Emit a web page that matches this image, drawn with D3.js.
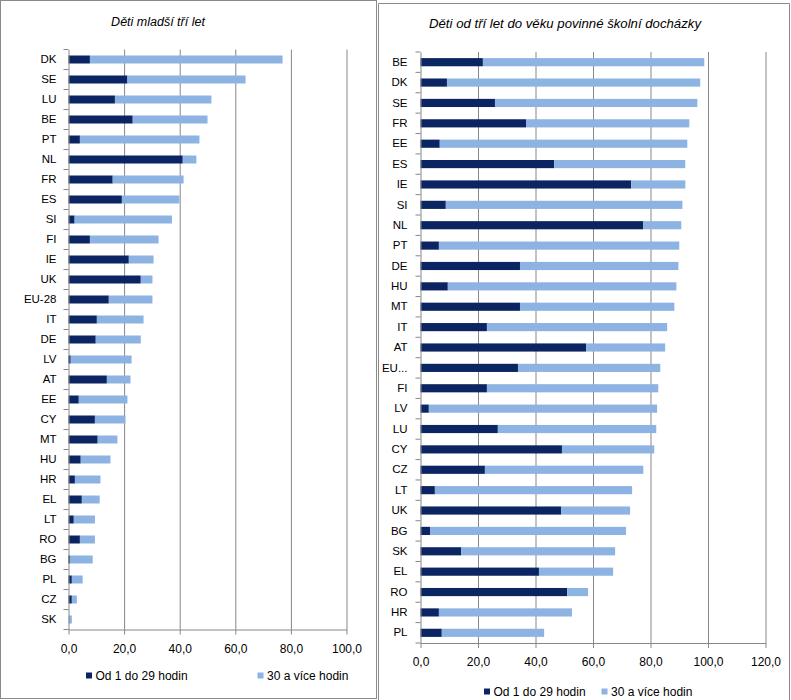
<!DOCTYPE html>
<html>
  <head>
    <meta charset="UTF-8" />
    <title>Děti v předškolním vzdělávání</title>
    <script src="https://d3js.org/d3.v7.min.js"></script>
    <style>
      * {
        margin: 0;
        padding: 0;
      }
      body {
        background-color: #ffffff;
      }
      svg {
        display: block;
        font-family: "Liberation Sans", Arial, sans-serif;
      }
      .title {
        font-style: italic;
        fill: #000000;
        text-anchor: middle;
      }
      .frame {
        fill: none;
        stroke: #8a8a8a;
        stroke-width: 1;
      }
      .grid line {
        stroke: #878787;
      }
      .grid path {
        display: none;
      }
      .axis path,
      .axis line {
        stroke: #878787;
      }
      .axis text {
        fill: #000000;
      }
      .legend text {
        font-size: 12px;
        fill: #000000;
      }
    </style>
  </head>
  <body>
    <svg id="chart" width="791" height="700"></svg>
  </body>
  <script>
    // series names
    const seriesNames = ["Od 1 do 29 hodin", "30 a více hodin"];
    const colors = ["#0b2462", "#8db3e2"];

    // left chart: children under three
    const leftCountries = ["DK", "SE", "LU", "BE", "PT", "NL", "FR", "ES", "SI", "FI",
      "IE", "UK", "EU-28", "IT", "DE", "LV", "AT", "EE", "CY", "MT",
      "HU", "HR", "EL", "LT", "RO", "BG", "PL", "CZ", "SK"];
    const leftShort = [7.7, 21.2, 16.7, 23.1, 4.1, 41.1, 15.9, 19.2, 2.2, 7.7,
      21.7, 26.0, 14.5, 10.2, 9.8, 0.8, 13.8, 3.7, 9.5, 10.5,
      4.4, 2.3, 4.8, 1.9, 4.1, 0.5, 1.2, 1.2, 0.0];
    const leftLong = [69.3, 42.5, 34.7, 26.9, 43.0, 4.9, 25.5, 20.7, 35.0, 24.7,
      8.9, 4.2, 15.7, 16.8, 16.2, 21.9, 8.5, 17.5, 11.0, 7.1,
      10.7, 9.2, 6.4, 7.6, 5.4, 8.2, 3.9, 1.8, 1.2];
    const leftTicks = [0, 20, 40, 60, 80, 100];

    // right chart: from three years to compulsory school age
    const rightCountries = ["BE", "DK", "SE", "FR", "EE", "ES", "IE", "SI", "NL", "PT",
      "DE", "HU", "MT", "IT", "AT", "EU...", "FI", "LV", "LU", "CY",
      "CZ", "LT", "UK", "BG", "SK", "EL", "RO", "HR", "PL"];
    const rightShort = [21.7, 9.2, 25.9, 36.7, 6.7, 46.5, 73.3, 8.8, 77.5, 6.4,
      34.6, 9.5, 34.6, 23.1, 57.6, 33.9, 23.1, 2.9, 26.9, 49.2,
      22.4, 5.0, 48.9, 3.3, 14.1, 41.2, 51.0, 6.4, 7.4];
    const rightLong = [77.0, 88.1, 70.4, 56.8, 86.1, 45.6, 18.8, 82.3, 13.2, 83.6,
      55.1, 79.5, 53.7, 62.7, 27.5, 49.5, 59.6, 79.4, 55.1, 32.1,
      55.1, 68.6, 24.0, 68.2, 53.6, 25.8, 7.3, 46.3, 35.6];
    const rightTicks = [0, 20, 40, 60, 80, 100, 120];

    const svg = d3.select("#chart");

    // panel frames (two overlapping chart boxes)
    svg.append("rect").attr("class", "frame")
      .attr("x", 0.5).attr("y", 0.5).attr("width", 376).attr("height", 698);
    svg.append("rect")
      .attr("x", 378).attr("y", 3).attr("width", 413).attr("height", 697)
      .attr("fill", "#ffffff");
    svg.append("path").attr("class", "frame")
      .attr("d", "M378.5,700V3.5H789.5V700");

    const fmt = (d) => d.toFixed(1).replace(".", ",");

    function drawPanel(cfg) {
      const rows = cfg.countries.map((c, i) => ({
        country: c, short: cfg.short[i], long: cfg.long[i]
      }));

      const x = d3.scaleLinear()
        .domain([0, d3.max(cfg.ticks)])
        .range([cfg.left, cfg.right]);
      const y = d3.scaleBand()
        .domain(cfg.countries)
        .range([cfg.top, cfg.bottom])
        .paddingInner(0.6)
        .paddingOuter(0.3);

      const g = svg.append("g");

      // title
      g.append("text").attr("class", "title")
        .attr("x", cfg.titleX).attr("y", cfg.titleY)
        .attr("font-size", cfg.titleSize)
        .text(cfg.title);

      // vertical gridlines
      g.append("g").attr("class", "grid")
        .attr("transform", `translate(0,${cfg.bottom})`)
        .call(d3.axisBottom(x).tickValues(cfg.ticks.slice(1))
          .tickSize(-(cfg.bottom - cfg.top)).tickFormat(""));

      // stacked bars
      const stack = d3.stack().keys(["short", "long"]);
      g.append("g").selectAll("g")
        .data(stack(rows))
        .join("g")
        .attr("fill", (d, i) => colors[i])
        .selectAll("rect")
        .data((d) => d)
        .join("rect")
        .attr("x", (d) => x(d[0]))
        .attr("y", (d) => y(d.data.country))
        .attr("width", (d) => x(d[1]) - x(d[0]))
        .attr("height", y.bandwidth());

      // x axis
      g.append("g").attr("class", "axis")
        .attr("transform", `translate(0,${cfg.bottom})`)
        .call(d3.axisBottom(x).tickValues(cfg.ticks)
          .tickSize(5).tickPadding(9.5).tickSizeOuter(0).tickFormat(fmt))
        .call((a) => a.selectAll("text").attr("font-size", 12).attr("font-family", null));

      // y axis: labels at band centres, ticks at band edges
      const ya = g.append("g").attr("class", "axis")
        .attr("transform", `translate(${cfg.left},0)`)
        .call(d3.axisLeft(y).tickSize(0).tickPadding(cfg.labelPad))
        .call((a) => a.selectAll("text").attr("font-size", 11.5).attr("font-family", null));
      const step = y.step();
      ya.selectAll(".edge")
        .data(d3.range(cfg.countries.length + 1))
        .join("line")
        .attr("class", "edge")
        .attr("x1", -5).attr("x2", 0)
        .attr("y1", (i) => cfg.top + i * step)
        .attr("y2", (i) => cfg.top + i * step);

      // legend
      const lg = g.append("g").attr("class", "legend");
      seriesNames.forEach((name, i) => {
        lg.append("rect")
          .attr("x", cfg.legendX[i]).attr("y", cfg.legendY - 3.5)
          .attr("width", 6).attr("height", 6)
          .attr("fill", colors[i]);
        lg.append("text")
          .attr("x", cfg.legendX[i] + 9.5).attr("y", cfg.legendY)
          .attr("dy", "0.35em")
          .text(name);
      });
    }

    drawPanel({
      title: "Děti mladší tří let",
      titleX: 158, titleY: 25.5, titleSize: 12.5,
      countries: leftCountries, short: leftShort, long: leftLong, ticks: leftTicks,
      left: 68.5, right: 346.5, top: 49.5, bottom: 629.5, labelPad: 12,
      legendX: [86, 257.5], legendY: 676
    });

    drawPanel({
      title: "Děti od tří let do věku povinné školní docházky",
      titleX: 565, titleY: 28, titleSize: 13.2,
      countries: rightCountries, short: rightShort, long: rightLong, ticks: rightTicks,
      left: 420.5, right: 765.5, top: 52, bottom: 643, labelPad: 13,
      legendX: [484, 601.5], legendY: 692
    });
  </script>
</html>
